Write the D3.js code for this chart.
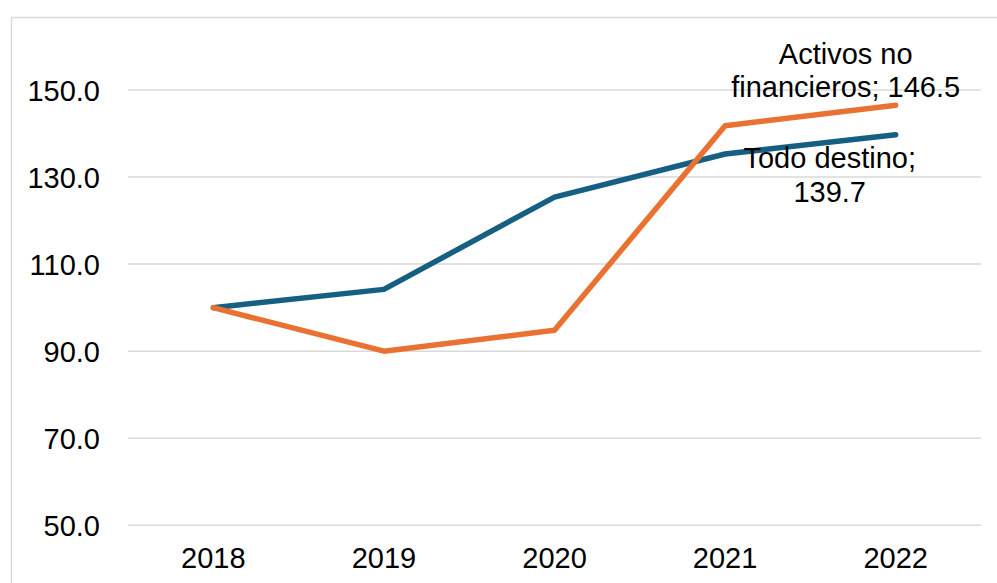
<!DOCTYPE html>
<html>
<head>
<meta charset="utf-8">
<script src="https://cdn.jsdelivr.net/npm/d3@7"></script>
<style>
  body { margin: 0; background: #fff; }
  text { font-family: "Liberation Sans", Arial, sans-serif; fill: #000; }
</style>
</head>
<body>
<div id="display-container"></div>
<script>
var years = ["2018", "2019", "2020", "2021", "2022"];
var todoDestino = [100.0, 104.2, 125.4, 135.3, 139.7];
var activosNoFin = [100.0, 90.0, 94.8, 141.8, 146.5];
var yTicks = [50, 70, 90, 110, 130, 150];

var width = 997;
var height = 583;
var plot = {left: 128, right: 981, top: 90, bottom: 525.3};
var fontSize = "29px";

var svg = d3.select("#display-container").append("svg")
    .attr("width", width)
    .attr("height", height);

// chart border
svg.append("rect")
    .attr("x", 11.5).attr("y", 17.5)
    .attr("width", width + 10).attr("height", height + 10)
    .attr("fill", "none")
    .attr("stroke", "#d9d9d9")
    .attr("stroke-width", 1.5);

var x = d3.scaleBand()
    .domain(years)
    .range([plot.left, plot.right]);

var y = d3.scaleLinear()
    .domain([50, 150])
    .range([plot.bottom, plot.top]);

// gridlines
svg.append("g")
    .selectAll("line")
    .data(yTicks)
    .enter().append("line")
    .attr("x1", plot.left).attr("x2", plot.right)
    .attr("y1", function(d){ return y(d); })
    .attr("y2", function(d){ return y(d); })
    .attr("stroke", "#d9d9d9")
    .attr("stroke-width", 1.5);

// y axis labels
var yAxis = d3.axisLeft(y).tickValues(yTicks).tickFormat(d3.format(".1f")).tickSize(0).tickPadding(28);
var gy = svg.append("g").attr("transform", "translate(" + plot.left + ",0)").call(yAxis);
gy.select(".domain").remove();
gy.selectAll("text").style("font-size", fontSize).attr("dy", "0.36em")
    .style("font-family", "'Liberation Sans', Arial, sans-serif").attr("fill", "#000");

// x axis labels
var xAxis = d3.axisBottom(x).tickSize(0).tickPadding(22);
var gx = svg.append("g").attr("transform", "translate(0," + plot.bottom + ")").call(xAxis);
gx.select(".domain").remove();
gx.selectAll("text").style("font-size", fontSize)
    .style("font-family", "'Liberation Sans', Arial, sans-serif").attr("fill", "#000");

var line = d3.line()
    .x(function(d, i){ return x(years[i]) + x.bandwidth() / 2; })
    .y(function(d){ return y(d); });

svg.append("path")
    .datum(todoDestino)
    .attr("d", line)
    .attr("fill", "none")
    .attr("stroke", "#156082")
    .attr("stroke-width", 5.5)
    .attr("stroke-linejoin", "round")
    .attr("stroke-linecap", "round");

svg.append("path")
    .datum(activosNoFin)
    .attr("d", line)
    .attr("fill", "none")
    .attr("stroke", "#e97132")
    .attr("stroke-width", 5.5)
    .attr("stroke-linejoin", "round")
    .attr("stroke-linecap", "round");

// data labels on the last point
var lastX = x(years[4]) + x.bandwidth() / 2;

var lab1 = svg.append("text")
    .attr("text-anchor", "middle")
    .style("font-size", fontSize);
lab1.append("tspan").attr("x", lastX - 50).attr("y", y(activosNoFin[4]) - 41).text("Activos no");
lab1.append("tspan").attr("x", lastX - 50).attr("y", y(activosNoFin[4]) - 8).text("financieros; " + activosNoFin[4].toFixed(1));

var lab2 = svg.append("text")
    .attr("text-anchor", "middle")
    .style("font-size", fontSize);
lab2.append("tspan").attr("x", lastX - 66).attr("y", y(todoDestino[4]) + 33).text("Todo destino;");
lab2.append("tspan").attr("x", lastX - 66).attr("y", y(todoDestino[4]) + 67).text(todoDestino[4].toFixed(1));
</script>
</body>
</html>
